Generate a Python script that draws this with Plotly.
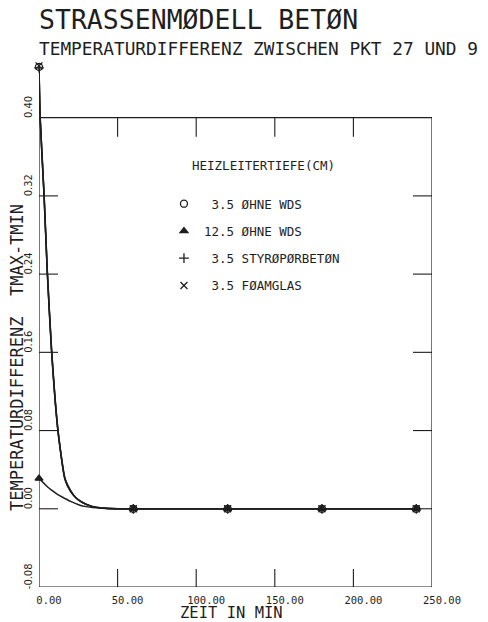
import plotly.graph_objects as go

# ---------------- data ----------------
time_min = [0, 0.7, 3.2, 5.3, 8, 12, 16.5, 20, 23, 26, 30, 34, 40, 50, 60, 120, 180, 240]

ohne_wds_35 = [0.452, 0.400, 0.320, 0.240, 0.160, 0.080, 0.030, 0.018, 0.012, 0.008,
               0.0045, 0.0022, 0.0008, 0.0001, 0.0, 0.0, 0.0, 0.0]
ohne_wds_125 = [0.031, 0.030, 0.026, 0.0225, 0.019, 0.0145, 0.0105, 0.0075, 0.0055, 0.0037,
                0.0022, 0.0012, 0.0005, 0.0001, 0.0, 0.0, 0.0, 0.0]
styroporbeton_35 = [0.451, 0.401, 0.322, 0.242, 0.162, 0.081, 0.031, 0.018, 0.012, 0.008,
                    0.0045, 0.0022, 0.0008, 0.0001, 0.0, 0.0, 0.0, 0.0]
foamglas_35 = [0.453, 0.402, 0.323, 0.243, 0.163, 0.082, 0.031, 0.019, 0.012, 0.008,
               0.0046, 0.0023, 0.0008, 0.0001, 0.0, 0.0, 0.0, 0.0]

marker_times = [0, 60, 120, 180, 240]

series_names = ["\u00a03.5 ØHNE WDS", "12.5 ØHNE WDS", "\u00a03.5 STYRØPØRBETØN", "\u00a03.5 FØAMGLAS"]
series_values = [ohne_wds_35, ohne_wds_125, styroporbeton_35, foamglas_35]
series_symbols = ["circle-open", "triangle-up", "cross-thin-open", "x-thin-open"]

x_tick_vals = [0, 50, 100, 150, 200, 250]
x_tick_text = ["0.00", "50.00", "100.00", "150.00", "200.00", "250.00"]
y_tick_vals = [-0.08, 0.0, 0.08, 0.16, 0.24, 0.32, 0.40]
y_tick_text = ["-0.08", "0.00", "0.08", "0.16", "0.24", "0.32", "0.40"]

title_text = "STRASSENMØDELL BETØN"
subtitle_text = "TEMPERATURDIFFERENZ ZWISCHEN PKT 27 UND 9"
x_title = "ZEIT IN MIN"
y_title = "TEMPERATURDIFFERENZ\u00a0\u00a0TMAX-TMIN"
legend_title = "HEIZLEITERTIEFE(CM)"

# ---------------- figure ----------------
INK = "#1e1e1e"
MONO = "DejaVu Sans Mono"
X_MIN, X_MAX = 0, 250
Y_MIN, Y_FRAME_TOP, Y_MAX = -0.08, 0.40, 0.46

fig = go.Figure()

marker_idx = [time_min.index(t) for t in marker_times]

for name, vals, sym in zip(series_names, series_values, series_symbols):
    fig.add_trace(go.Scatter(
        x=time_min, y=vals, mode="lines",
        line=dict(color=INK, width=1.5, shape="spline", smoothing=0.5),
        showlegend=False, hoverinfo="skip", cliponaxis=False,
    ))
for i, (name, vals, sym) in enumerate(zip(series_names, series_values, series_symbols)):
    fig.add_trace(go.Scatter(
        x=[time_min[k] for k in marker_idx], y=[vals[k] for k in marker_idx],
        mode="markers", name=name, legendgroup=f"g{i}",
        marker=dict(symbol=sym, size=7, color=INK, line=dict(color=INK, width=1.3)),
        cliponaxis=False,
    ))

# frame
shapes = [dict(type="rect", xref="x", yref="y", x0=X_MIN, x1=X_MAX, y0=Y_MIN, y1=Y_FRAME_TOP,
               line=dict(color=INK, width=1.2), layer="above")]
tick_line = dict(color=INK, width=1.1)
for xv in x_tick_vals[1:-1]:
    shapes.append(dict(type="line", xref="x", yref="y", x0=xv, x1=xv,
                       ysizemode="pixel", yanchor=Y_MIN, y0=0, y1=18, line=tick_line))
    shapes.append(dict(type="line", xref="x", yref="y", x0=xv, x1=xv,
                       ysizemode="pixel", yanchor=Y_FRAME_TOP, y0=0, y1=-19, line=tick_line))
for yv in y_tick_vals[1:-1]:
    shapes.append(dict(type="line", xref="x", yref="y", y0=yv, y1=yv,
                       xsizemode="pixel", xanchor=X_MIN, x0=-5, x1=19, line=tick_line))
    shapes.append(dict(type="line", xref="x", yref="y", y0=yv, y1=yv,
                       xsizemode="pixel", xanchor=X_MAX, x0=0, x1=-19, line=tick_line))

annotations = [
    dict(text=title_text, xref="paper", yref="paper", x=-0.005, y=1.0739,
         xanchor="left", yanchor="middle", showarrow=False,
         font=dict(family=MONO, size=26.5, color=INK)),
    dict(text=subtitle_text, xref="paper", yref="paper", x=-0.005, y=1.0208,
         xanchor="left", yanchor="middle", showarrow=False,
         font=dict(family=MONO, size=17.8, color=INK)),
    dict(text=x_title, xref="paper", yref="paper", x=0.491, y=-0.050,
         xanchor="center", yanchor="middle", showarrow=False,
         font=dict(family=MONO, size=15.5, color=INK)),
    dict(text=y_title, xref="paper", yref="paper", x=-0.056, y=0.4356,
         xanchor="center", yanchor="middle", showarrow=False, textangle=-90,
         font=dict(family=MONO, size=17, color=INK)),
    dict(text=legend_title, xref="paper", yref="paper", x=0.3842, y=0.7992,
         xanchor="left", yanchor="middle", showarrow=False,
         font=dict(family=MONO, size=12.5, color=INK)),
]

fig.update_layout(
    width=488, height=622,
    margin=dict(l=39, r=56, t=59, b=35, pad=0, autoexpand=False),
    paper_bgcolor="white", plot_bgcolor="white",
    shapes=shapes, annotations=annotations,
    showlegend=True,
    legend=dict(x=0.318, y=0.7536, xanchor="left", yanchor="top",
                bgcolor="rgba(0,0,0,0)", borderwidth=0,
                font=dict(family=MONO, size=12.5, color=INK),
                tracegroupgap=8, itemsizing="trace"),
    xaxis=dict(range=[X_MIN, X_MAX], showgrid=False, zeroline=False, showline=False,
               automargin=False,
               ticks="", tickmode="array", tickvals=x_tick_vals, ticktext=x_tick_text,
               ticklabelshift=10, ticklabelstandoff=5,
               tickfont=dict(family=MONO, size=10.5, color=INK)),
    yaxis=dict(range=[Y_MIN, Y_MAX], showgrid=False, zeroline=False, showline=False,
               automargin=False,
               ticks="", tickmode="array", tickvals=y_tick_vals, ticktext=y_tick_text,
               tickangle=-90, ticklabelshift=-9, ticklabelstandoff=4,
               tickfont=dict(family="Liberation Sans Narrow, DejaVu Sans Condensed, " + MONO,
                             size=11, color=INK)),
)

fig.write_html("out.html", config={"displayModeBar": False},
               post_script="document.body.style.margin='0px';")
